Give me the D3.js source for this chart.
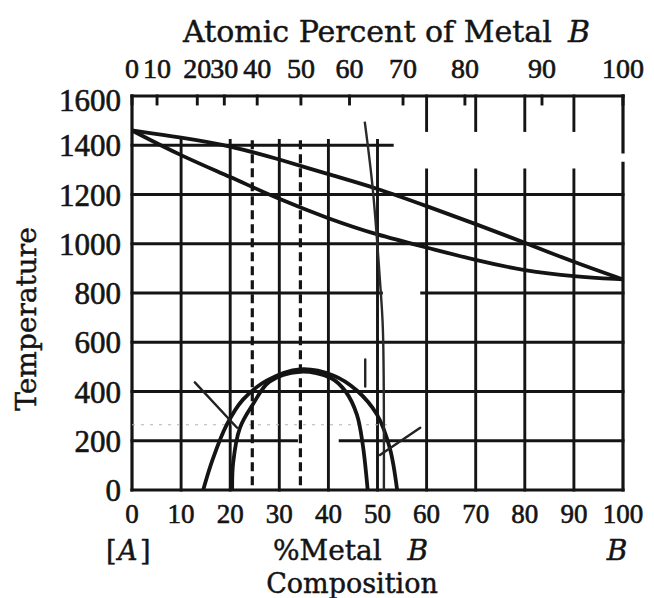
<!DOCTYPE html>
<html>
<head>
<meta charset="utf-8">
<script src="https://cdn.jsdelivr.net/npm/d3@7"></script>
<style>
  body { margin: 0; background: #fff; }
  svg { display: block; }
  .word { font-family: "DejaVu Serif", serif; fill: #141414; stroke: #141414; stroke-width: 0.45px; }
  .num { font-family: "Liberation Serif", serif; fill: #141414; stroke: #141414; stroke-width: 0.6px; }
</style>
</head>
<body>
<div id="chart"></div>
<script>
// composition axis (weight % of metal B) and temperature axis
const wtTicks = [0, 10, 20, 30, 40, 50, 60, 70, 80, 90, 100];
const tempTicks = [0, 200, 400, 600, 800, 1000, 1200, 1400, 1600];

// atomic percent scale along the top, with the weight % where each tick sits
const atomicLabels = [0, 10, 20, 30, 40, 50, 60, 70, 80, 90, 100];
const atomicAtWt = [0, 5.1, 13.3, 18.8, 25.5, 34.4, 44.3, 55.2, 67.8, 83.5, 100];

// liquidus (upper) and solidus (lower)
const lineComp = [0, 10, 20, 30, 40, 50, 60, 70, 80, 90, 100];
const liquidusT = [1460, 1432, 1398, 1343, 1282, 1225, 1153, 1080, 1005, 925, 855];
const solidusT = [1460, 1357, 1272, 1180, 1102, 1035, 985, 933, 890, 867, 855];

// solvus dome, drawn as two close arcs
const outerComp = [14.5, 16.5, 19.3, 22.6, 27.5, 34.2, 41, 45.8, 49.9, 52.5, 54];
const outerT = [0, 128, 265, 367, 445, 490, 465, 404, 306, 171, 0];
const innerComp = [20.4, 20.6, 22, 24.6, 28, 34.2, 40.5, 43.5, 45.8, 47, 48];
const innerT = [0, 110, 253, 347, 440, 480, 455, 400, 306, 184, 0];

// dashed composition markers
const markerComp = [24.5, 34.3];

// pencil marks on the scan
const handComp = [47.4, 49.0, 50.5, 51.1, 51.3];
const handT = [1496, 1230, 850, 650, 0];
const scribbles = [
  [[12.8, 437], [21.4, 253]],
  [[50.5, 142], [58.7, 253]],
  [[47.5, 530], [47.5, 420]]
];
const pencilT = 265;

const width = 654;
const height = 598;

const x = d3.scaleLinear().domain([0, 100]).range([132, 623]);
const y = d3.scaleLinear().domain([0, 1600]).range([490, 96]);

const svg = d3.select("#chart")
  .append("svg")
    .attr("width", width)
    .attr("height", height);

const ink = "#141414";

// grid: some lines on the scan stop short or have gaps
function vSpans(c) {
  if (c === 0) return [[0, 1600]];
  if (c === 100) return [[0, 1327], [1373, 1600]];
  if (c <= 50) return [[0, 1420]];
  return [[0, 1300], [1460, 1600]];
}
function hSpans(t) {
  if (t === 200) return [[0, 33.5], [42.4, 100]];
  if (t === 800) return [[0, 50.8], [59, 100]];
  if (t === 1400) return [[0, 53]];
  return [[0, 100]];
}

const grid = svg.append("g")
  .attr("stroke", ink)
  .attr("stroke-width", 2.9)
  .attr("stroke-linecap", "square");

wtTicks.forEach(c => {
  vSpans(c).forEach(s => {
    grid.append("line")
      .attr("x1", x(c)).attr("x2", x(c))
      .attr("y1", y(s[0])).attr("y2", y(s[1]))
      .attr("stroke-width", (c === 0 || c === 100) ? 3.2 : 2.9);
  });
});
tempTicks.forEach(t => {
  hSpans(t).forEach(s => {
    grid.append("line")
      .attr("x1", x(s[0])).attr("x2", x(s[1]))
      .attr("y1", y(t)).attr("y2", y(t))
      .attr("stroke-width", (t === 0 || t === 1600) ? 3.2 : 2.9);
  });
});

// atomic percent ticks hanging from the top edge
grid.selectAll(".atick")
  .data(atomicAtWt)
  .join("line")
    .attr("x1", d => x(d)).attr("x2", d => x(d))
    .attr("y1", y(1600)).attr("y2", y(1600) + 8);

// pencil guide line
svg.append("line")
  .attr("x1", x(0)).attr("x2", x(53))
  .attr("y1", y(pencilT)).attr("y2", y(pencilT))
  .attr("stroke", "#b4b4b4")
  .attr("stroke-width", 1.2)
  .attr("stroke-dasharray", "3,6");

// dashed markers
svg.selectAll(".marker")
  .data(markerComp)
  .join("line")
    .attr("x1", d => x(d)).attr("x2", d => x(d))
    .attr("y1", y(1420)).attr("y2", y(0))
    .attr("stroke", ink)
    .attr("stroke-width", 3.2)
    .attr("stroke-dasharray", "9,5");

const smooth = d3.line()
  .x(d => x(d[0]))
  .y(d => y(d[1]))
  .curve(d3.curveBasis);

const curve = d3.line()
  .x(d => x(d[0]))
  .y(d => y(d[1]))
  .curve(d3.curveCatmullRom.alpha(0.5));

const zip = (a, b) => a.map((v, i) => [v, b[i]]);

svg.selectAll(".phase")
  .data([zip(lineComp, liquidusT), zip(lineComp, solidusT)])
  .join("path")
    .attr("d", smooth)
    .attr("fill", "none")
    .attr("stroke", ink)
    .attr("stroke-width", 3.8)
    .attr("stroke-linejoin", "round");

svg.selectAll(".dome")
  .data([zip(outerComp, outerT), zip(innerComp, innerT)])
  .join("path")
    .attr("d", curve)
    .attr("fill", "none")
    .attr("stroke", ink)
    .attr("stroke-width", 3.8)
    .attr("stroke-linejoin", "round");

// hand-drawn strokes
svg.append("path")
  .attr("d", curve(zip(handComp, handT)))
  .attr("fill", "none")
  .attr("stroke", "#2a2a2a")
  .attr("stroke-width", 2.4);

svg.selectAll(".scribble")
  .data(scribbles)
  .join("path")
    .attr("d", d3.line().x(d => x(d[0])).y(d => y(d[1])))
    .attr("fill", "none")
    .attr("stroke", "#222")
    .attr("stroke-width", 2.4)
    .attr("stroke-linecap", "round");

// tick labels
svg.selectAll(".ylab")
  .data(tempTicks)
  .join("text")
    .attr("class", "num")
    .attr("x", 121)
    .attr("y", d => y(d) + 11 + (d === 1600 ? 4 : 0))
    .attr("text-anchor", "end")
    .style("font-size", "31px")
    .text(d => d);

svg.selectAll(".xlab")
  .data(wtTicks)
  .join("text")
    .attr("class", "num")
    .attr("x", d => x(d))
    .attr("y", 523)
    .attr("text-anchor", "middle")
    .style("font-size", "27px")
    .text(d => d);

svg.selectAll(".alab")
  .data(atomicLabels)
  .join("text")
    .attr("class", "num")
    .attr("x", (d, i) => x(atomicAtWt[i]))
    .attr("y", 78)
    .attr("text-anchor", "middle")
    .style("font-size", "28px")
    .text(d => d);

// titles
svg.append("text")
  .attr("class", "word")
  .attr("x", 183)
  .attr("y", 42)
  .style("font-size", "30px")
  .text("Atomic Percent of Metal");
svg.append("text")
  .attr("class", "word")
  .attr("x", 590)
  .attr("y", 42)
  .attr("text-anchor", "end")
  .style("font-size", "30px")
  .style("font-style", "italic")
  .text("B");

svg.append("text")
  .attr("class", "word")
  .attr("transform", "translate(36,319) rotate(-90)")
  .attr("text-anchor", "middle")
  .style("font-size", "28px")
  .text("Temperature");

// [A] built from three pieces so the letter can be italic
svg.append("text")
  .attr("class", "word")
  .attr("x", 106)
  .attr("y", 560)
  .style("font-size", "27px")
  .text("[");
svg.append("text")
  .attr("class", "word")
  .attr("x", 118)
  .attr("y", 560)
  .style("font-size", "27px")
  .style("font-style", "italic")
  .text("A");
svg.append("text")
  .attr("class", "word")
  .attr("x", 140)
  .attr("y", 560)
  .style("font-size", "27px")
  .text("]");

svg.append("text")
  .attr("class", "word")
  .attr("x", 273)
  .attr("y", 560)
  .style("font-size", "28px")
  .text("%Metal");
svg.append("text")
  .attr("class", "word")
  .attr("x", 428)
  .attr("y", 560)
  .attr("text-anchor", "end")
  .style("font-size", "28px")
  .style("font-style", "italic")
  .text("B");

svg.append("text")
  .attr("class", "word")
  .attr("x", 617)
  .attr("y", 560)
  .attr("text-anchor", "middle")
  .style("font-size", "28px")
  .style("font-style", "italic")
  .text("B");

svg.append("text")
  .attr("class", "word")
  .attr("x", 352)
  .attr("y", 593)
  .attr("text-anchor", "middle")
  .style("font-size", "27px")
  .text("Composition");
</script>
</body>
</html>
